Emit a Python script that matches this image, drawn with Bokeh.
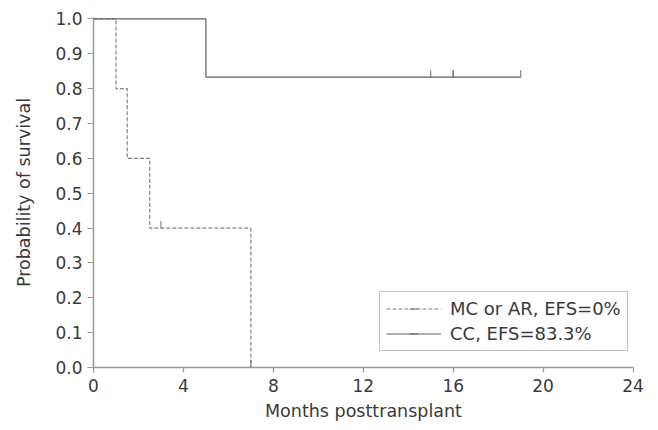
import numpy as np
from bokeh.plotting import figure
from bokeh.models import Range1d, FixedTicker, Legend, LegendItem, ColumnDataSource, CustomJSTickFormatter
from bokeh.embed import file_html
from bokeh.resources import INLINE

# Data
mc_times = [0, 1, 1.5, 2.5, 7]
mc_surv = [1.0, 0.8, 0.6, 0.4, 0.0]
mc_cens_t = [3, 7]
mc_cens_s = [0.4, 0.0]

cc_times = [0, 5, 19]
cc_surv = [1.0, 0.833, 0.833]
cc_cens_t = [15, 16, 16, 19]
cc_cens_s = [0.833, 0.833, 0.833, 0.833]

x_ticks = [0, 4, 8, 12, 16, 20, 24]
y_ticks = [0.0, 0.1, 0.2, 0.3, 0.4, 0.5, 0.6, 0.7, 0.8, 0.9, 1.0]
labels = ["MC or AR, EFS=0%", "CC, EFS=83.3%"]

FONT = "DejaVu Sans"
TXT = "#3a3a3a"

p = figure(width=658, height=430, output_backend="svg", toolbar_location=None,
           x_range=Range1d(0, 24.02), y_range=Range1d(0, 1.004),
           min_border_left=93, min_border_right=25, min_border_top=17, min_border_bottom=63)
p.frame_width = 540
p.frame_height = 350
p.outline_line_color = None
p.grid.visible = False
p.background_fill_color = "white"
p.border_fill_color = "white"

# step curves
r_mc = p.step(mc_times, mc_surv, mode="after", line_color="#808080", line_width=1.2, line_dash="4 2")
r_cc = p.step(cc_times, cc_surv, mode="after", line_color="#606060", line_width=1.2)

# censor marks (small upward ticks)
off = 0.010
mc_src = ColumnDataSource(dict(x=mc_cens_t, y=[s + off for s in mc_cens_s]))
cc_src = ColumnDataSource(dict(x=cc_cens_t, y=[s + off for s in cc_cens_s]))
m_mc = p.scatter("x", "y", source=mc_src, marker="dash", angle=np.pi / 2, size=7,
                 line_color="#555555", line_alpha=0.7, line_width=1.2)
m_cc = p.scatter("x", "y", source=cc_src, marker="dash", angle=np.pi / 2, size=7,
                 line_color="#555555", line_alpha=0.7, line_width=1.2)

# axes
for ax in (p.xaxis[0], p.yaxis[0]):
    ax.axis_line_color = "#999999"
    ax.axis_line_width = 1.5
    ax.major_tick_line_color = "#999999"
    ax.major_tick_line_width = 1.2
    ax.minor_tick_line_color = None
    ax.major_tick_in = 0
    ax.major_label_text_font = FONT
    ax.major_label_text_color = TXT
    ax.major_label_text_font_size = "17px"
    ax.axis_label_text_font = FONT
    ax.axis_label_text_color = TXT
    ax.axis_label_text_font_size = "17.5px"
    ax.axis_label_text_font_style = "normal"

p.xaxis.ticker = FixedTicker(ticks=x_ticks)
p.yaxis.ticker = FixedTicker(ticks=y_ticks)
p.yaxis.formatter = CustomJSTickFormatter(code="return tick.toFixed(1);")
p.xaxis.major_tick_out = 5
p.yaxis.major_tick_out = 6
p.xaxis.major_label_standoff = 6
p.yaxis.major_label_standoff = 5
p.xaxis.axis_label = "Months posttransplant"
p.yaxis.axis_label = "Probability of survival"
p.xaxis.axis_label_standoff = 6
p.yaxis.axis_label_standoff = 18

legend = Legend(items=[LegendItem(label=labels[0], renderers=[r_mc, m_mc]),
                       LegendItem(label=labels[1], renderers=[r_cc, m_cc])],
                location=(286, 16), orientation="vertical")
legend.border_line_color = "#888888"
legend.border_line_width = 1
legend.background_fill_alpha = 1
legend.label_text_font = FONT
legend.label_text_font_size = "18px"
legend.label_text_color = TXT
legend.glyph_width = 55
legend.glyph_height = 21
legend.label_height = 21
legend.label_standoff = 9
legend.spacing = 4
legend.margin = 0
legend.padding = 6
p.add_layout(legend, "center")

open("out.html", "w").write(file_html(p, INLINE))
